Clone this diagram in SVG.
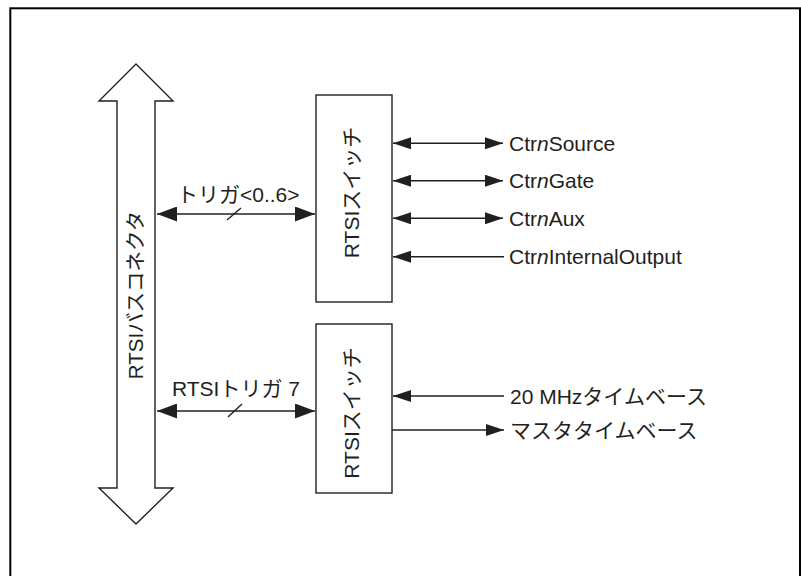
<svg xmlns="http://www.w3.org/2000/svg" width="801" height="576" viewBox="0 0 801 576">
<style>
  .ln { stroke: #231f20; stroke-width: 1.4; fill: none; }
  .box { fill: #ffffff; stroke: #231f20; stroke-width: 1.4; }
  .t { font-family: "Liberation Sans", "Noto Sans CJK JP", sans-serif; font-size: 21px; fill: #231f20; }
</style>
<defs>
  <marker id="ah" markerUnits="userSpaceOnUse" markerWidth="18" markerHeight="12" refX="18" refY="6" orient="auto-start-reverse">
    <path d="M0,0 L18,6 L0,12 Z" fill="#231f20"/>
  </marker>
  <marker id="ahL" markerUnits="userSpaceOnUse" markerWidth="20" markerHeight="15" refX="20" refY="7.5" orient="auto-start-reverse">
    <path d="M0,0 L20,7.5 L0,15 Z" fill="#231f20"/>
  </marker>
</defs>
<rect x="0" y="0" width="801" height="576" fill="#ffffff"/>
<rect x="10.3" y="8.3" width="789.7" height="620" fill="none" stroke="#000000" stroke-width="2"/>

<g id="bus">
  <polygon class="box" points="136,64 173,101 155,101 155,488 173,488 136,524 99,488 117,488 117,101 99,101"/>
  <text class="t" text-anchor="middle" transform="translate(143,295) rotate(-90)" style="font-size:20.5px">RTSIバスコネクタ</text>
</g>

<g id="switch1">
  <rect class="box" x="316" y="95" width="76" height="207"/>
  <text class="t" text-anchor="middle" transform="translate(359,192.5) rotate(-90)">RTSIスイッチ</text>
</g>

<g id="switch2">
  <rect class="box" x="316" y="324" width="76" height="169"/>
  <text class="t" text-anchor="middle" transform="translate(359,413) rotate(-90)">RTSIスイッチ</text>
</g>

<g id="connectors">
  <line class="ln" x1="157" y1="214" x2="315" y2="214" marker-start="url(#ahL)" marker-end="url(#ahL)"/>
  <line class="ln" x1="227" y1="220" x2="241" y2="208"/>
  <line class="ln" x1="157" y1="411" x2="315" y2="411" marker-start="url(#ahL)" marker-end="url(#ahL)"/>
  <line class="ln" x1="228" y1="417" x2="242" y2="404"/>

  <line class="ln" x1="393" y1="143.3" x2="503" y2="143.3" marker-start="url(#ah)" marker-end="url(#ah)"/>
  <line class="ln" x1="393" y1="180.7" x2="503" y2="180.7" marker-start="url(#ah)" marker-end="url(#ah)"/>
  <line class="ln" x1="393" y1="218.3" x2="503" y2="218.3" marker-start="url(#ah)" marker-end="url(#ah)"/>
  <line class="ln" x1="393" y1="256.7" x2="504" y2="256.7" marker-start="url(#ah)"/>

  <line class="ln" x1="393" y1="396" x2="504" y2="396" marker-start="url(#ah)"/>
  <line class="ln" x1="392" y1="430" x2="504" y2="430" marker-end="url(#ah)"/>
</g>

<g id="labels">
  <text class="t" x="177" y="202">トリガ&lt;0..6&gt;</text>
  <text class="t" x="172" y="396">RTSIトリガ 7</text>
  <text class="t" x="509" y="150.8">Ctr<tspan font-style="italic">n</tspan>Source</text>
  <text class="t" x="509" y="188.2">Ctr<tspan font-style="italic">n</tspan>Gate</text>
  <text class="t" x="509" y="225.8">Ctr<tspan font-style="italic">n</tspan>Aux</text>
  <text class="t" x="509" y="264.2">Ctr<tspan font-style="italic">n</tspan>InternalOutput</text>
  <text class="t" x="510" y="403.5">20 MHzタイムベース</text>
  <text class="t" x="510" y="437.5">マスタタイムベース</text>
</g>
</svg>
